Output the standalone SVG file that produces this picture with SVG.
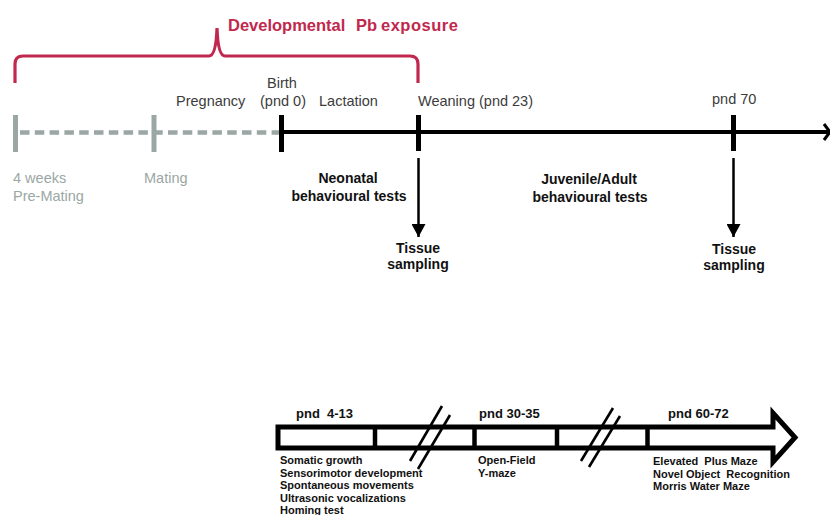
<svg xmlns="http://www.w3.org/2000/svg" width="830" height="515" viewBox="0 0 830 515">
<style>
text{font-family:"Liberation Sans",Arial,sans-serif}
.lbl{font-size:14.5px;fill:#3c3c3c}
.gry{font-size:14.5px;fill:#9aa7a4}
.bld{font-size:14px;font-weight:bold;fill:#111;text-anchor:middle}
.title{font-size:16.5px;font-weight:bold;fill:#c0284d}
.pnd{font-size:13px;font-weight:bold;fill:#111}
.lst{font-size:11px;font-weight:bold;fill:#111}
.blk{stroke:#000;fill:none}
.gln{stroke:#9aa7a4;fill:none}
</style>
<defs>
<marker id="ah" markerWidth="14" markerHeight="13" refX="7" refY="13" orient="0" markerUnits="userSpaceOnUse">
<path d="M0,0 L14,0 L7,13 Z" fill="#000"/>
</marker>
</defs>
<rect width="830" height="515" fill="#fff"/>

<g id="exposure-bracket">
<path d="M15,83 V64 Q15,56 23,56 H209 Q216,56 217,28 Q218,56 225,56 H410 Q418,56 418,64 V83" fill="none" stroke="#c0284d" stroke-width="3.2"/>
<text class="title" x="228" y="31">Developmental</text>
<text class="title" x="356" y="31">Pb</text>
<text class="title" x="381" y="31" letter-spacing="0.5">exposure</text>
</g>

<g id="connectors">
<line class="gln" x1="20" y1="132.5" x2="280" y2="132.5" stroke-width="4.5" stroke-dasharray="9.5,5.3"/>
<line class="blk" x1="281" y1="132" x2="828" y2="132" stroke-width="4"/>
<path d="M824,124 L830,132 L824,140" class="blk" stroke-width="3"/>
<line class="blk" x1="418.5" y1="158" x2="418.5" y2="237" stroke-width="2.5" marker-end="url(#ah)"/>
<line class="blk" x1="733.5" y1="158" x2="733.5" y2="237" stroke-width="2.5" marker-end="url(#ah)"/>
</g>

<g id="tick-premating">
<line class="gln" x1="15.5" y1="115" x2="15.5" y2="152" stroke-width="5"/>
<text class="gry" x="13" y="183">4 weeks</text>
<text class="gry" x="13" y="201">Pre-Mating</text>
</g>
<g id="tick-mating">
<line class="gln" x1="154" y1="115" x2="154" y2="152" stroke-width="5"/>
<text class="gry" x="144" y="183">Mating</text>
</g>
<g id="label-pregnancy">
<text class="lbl" x="176" y="106">Pregnancy</text>
</g>
<g id="tick-birth">
<line class="blk" x1="281.5" y1="115" x2="281.5" y2="152" stroke-width="5"/>
<text class="lbl" x="282" y="88" text-anchor="middle">Birth</text>
<text class="lbl" x="283" y="106" text-anchor="middle">(pnd 0)</text>
</g>
<g id="label-lactation">
<text class="lbl" x="319" y="106">Lactation</text>
</g>
<g id="tick-weaning">
<line class="blk" x1="418.5" y1="115" x2="418.5" y2="151" stroke-width="5"/>
<text class="lbl" x="418" y="106">Weaning (pnd 23)</text>
</g>
<g id="tick-pnd70">
<line class="blk" x1="733.5" y1="115" x2="733.5" y2="151" stroke-width="5"/>
<text class="lbl" x="712" y="104">pnd 70</text>
</g>
<g id="neonatal-tests">
<text class="bld" x="348" y="183">Neonatal</text>
<text class="bld" x="349" y="201">behavioural tests</text>
</g>
<g id="juvenile-tests">
<text class="bld" x="589" y="184">Juvenile/Adult</text>
<text class="bld" x="590" y="202">behavioural tests</text>
</g>
<g id="tissue-1">
<text class="bld" x="418" y="253">Tissue</text>
<text class="bld" x="418" y="269">sampling</text>
</g>
<g id="tissue-2">
<text class="bld" x="734" y="254">Tissue</text>
<text class="bld" x="734" y="270">sampling</text>
</g>

<g id="test-bar">
<path d="M278,427 H773 V413 L795,437.5 L773,462 V448 H278 Z" fill="#fff" stroke="#000" stroke-width="5" stroke-linejoin="miter"/>
<line class="blk" x1="375" y1="427" x2="375" y2="448" stroke-width="4.5"/>
<line class="blk" x1="474.5" y1="427" x2="474.5" y2="448" stroke-width="4.5"/>
<line class="blk" x1="557" y1="427" x2="557" y2="448" stroke-width="4.5"/>
<line class="blk" x1="647.5" y1="427" x2="647.5" y2="448" stroke-width="4.5"/>
<line class="blk" x1="442" y1="406" x2="410" y2="461" stroke-width="2.6"/>
<line class="blk" x1="450" y1="415" x2="418" y2="469" stroke-width="2.6"/>
<line class="blk" x1="613" y1="408" x2="581" y2="461" stroke-width="2.6"/>
<line class="blk" x1="620" y1="416" x2="589" y2="467" stroke-width="2.6"/>
</g>
<g id="period-4-13">
<text class="pnd" x="296" y="418" xml:space="preserve">pnd  4-13</text>
<text class="lst" x="280" y="464">Somatic growth</text>
<text class="lst" x="280" y="476.5">Sensorimotor development</text>
<text class="lst" x="280" y="489">Spontaneous movements</text>
<text class="lst" x="280" y="501.5">Ultrasonic vocalizations</text>
<text class="lst" x="280" y="514">Homing test</text>
</g>
<g id="period-30-35">
<text class="pnd" x="479" y="418">pnd 30-35</text>
<text class="lst" x="478" y="464">Open-Field</text>
<text class="lst" x="478" y="476.5">Y-maze</text>
</g>
<g id="period-60-72">
<text class="pnd" x="668" y="418">pnd 60-72</text>
<text class="lst" x="653" y="465" xml:space="preserve">Elevated  Plus Maze</text>
<text class="lst" x="653" y="477.5" xml:space="preserve">Novel Object  Recognition</text>
<text class="lst" x="653" y="490">Morris Water Maze</text>
</g>
</svg>
